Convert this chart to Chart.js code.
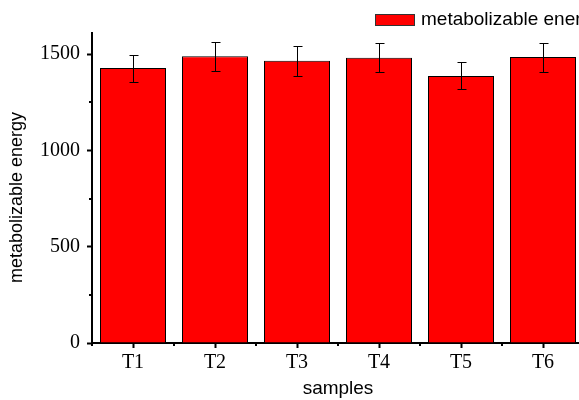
<!DOCTYPE html>
<html>
<head>
<meta charset="utf-8">
<script src="https://cdn.jsdelivr.net/npm/chart.js@4"></script>
<style>
  html, body { margin: 0; padding: 0; background: #fff; overflow: hidden; }
  #wrap { width: 600px; height: 400px; }
</style>
</head>
<body>
<div id="wrap"><canvas id="chart" width="600" height="400"></canvas></div>
<script>
  const samples = ['T1', 'T2', 'T3', 'T4', 'T5', 'T6'];
  const energy = [1428, 1489, 1466, 1482, 1387, 1485];
  const energyErr = [70, 75, 77, 75, 70, 75];
  const seriesLabel = 'metabolizable energy';
  const yTicks = [0, 500, 1000, 1500];

  // error bars, minor ticks, y title and the legend
  const extras = {
    id: 'extras',
    afterDatasetsDraw(chart) {
      const ctx = chart.ctx;
      const y = chart.scales.y;
      const x = chart.scales.x;
      const meta = chart.getDatasetMeta(0);
      ctx.save();
      ctx.strokeStyle = '#000';
      ctx.lineWidth = 1;
      meta.data.forEach((bar, i) => {
        const cx = Math.round(bar.x) + 0.5;
        const top = Math.round(y.getPixelForValue(energy[i] + energyErr[i])) + 0.5;
        const bot = Math.round(y.getPixelForValue(energy[i] - energyErr[i])) + 0.5;
        ctx.beginPath();
        ctx.moveTo(cx, top); ctx.lineTo(cx, bot);
        ctx.moveTo(cx - 4, top); ctx.lineTo(cx + 5, top);
        ctx.moveTo(cx - 4, bot); ctx.lineTo(cx + 5, bot);
        ctx.stroke();
      });
      // minor ticks
      ctx.lineWidth = 2;
      ctx.beginPath();
      for (let v = 250; v < y.max; v += 500) {
        const py = Math.round(y.getPixelForValue(v));
        ctx.moveTo(x.left, py); ctx.lineTo(x.left - 3, py);
      }
      for (let i = 0; i <= samples.length; i++) {
        const px = Math.round(x.getPixelForValue(i - 0.5));
        ctx.moveTo(px, y.bottom); ctx.lineTo(px, y.bottom + 3);
      }
      ctx.stroke();
      // y title
      ctx.fillStyle = '#000';
      ctx.font = '18px "Liberation Sans", Arial, sans-serif';
      ctx.textAlign = 'center';
      ctx.textBaseline = 'middle';
      ctx.save();
      ctx.translate(17.5, 197.5);
      ctx.rotate(-Math.PI / 2);
      ctx.fillText(seriesLabel, 0, 0);
      ctx.restore();
      // legend
      ctx.fillStyle = '#ff0000';
      ctx.fillRect(375, 14, 40, 12);
      ctx.lineWidth = 1;
      ctx.strokeStyle = '#333';
      ctx.strokeRect(375.5, 14.5, 39, 11);
      ctx.fillStyle = '#000';
      ctx.font = '19px "Liberation Sans", Arial, sans-serif';
      ctx.textAlign = 'left';
      ctx.fillText(seriesLabel, 421, 20);
      ctx.restore();
    }
  };

  new Chart(document.getElementById('chart'), {
    type: 'bar',
    data: {
      labels: samples,
      datasets: [{
        label: seriesLabel,
        data: energy,
        backgroundColor: '#ff0000',
        borderColor: '#000000',
        borderWidth: 1,
        inflateAmount: 0,
        categoryPercentage: 1,
        barPercentage: 66 / 82
      }]
    },
    options: {
      responsive: false,
      animation: false,
      layout: { padding: { top: 33, right: 16, left: 0, bottom: 0 } },
      plugins: { legend: { display: false }, tooltip: { enabled: false } },
      scales: {
        x: {
          afterFit: s => { s.height = 57; },
          border: { color: '#000', width: 2 },
          grid: { offset: false, drawOnChartArea: false, tickLength: 5, tickWidth: 2, tickColor: '#000' },
          ticks: { color: '#000', padding: 3, font: { family: '"Liberation Serif", "Times New Roman", serif', size: 20 } },
          title: { display: true, text: 'samples', color: '#000', padding: { top: 0, bottom: 0 },
                   font: { family: '"Liberation Sans", Arial, sans-serif', size: 19 } }
        },
        y: {
          min: 0,
          max: 1610,
          afterFit: s => { s.width = 92; },
          afterBuildTicks: s => { s.ticks = yTicks.map(v => ({ value: v })); },
          border: { color: '#000', width: 2 },
          grid: { drawOnChartArea: false, tickLength: 5, tickWidth: 2, tickColor: '#000' },
          ticks: { color: '#000', padding: 7, callback: v => String(v),
                   font: { family: '"Liberation Serif", "Times New Roman", serif', size: 20 } },
          title: { display: false }
        }
      }
    },
    plugins: [extras]
  });
</script>
</body>
</html>
